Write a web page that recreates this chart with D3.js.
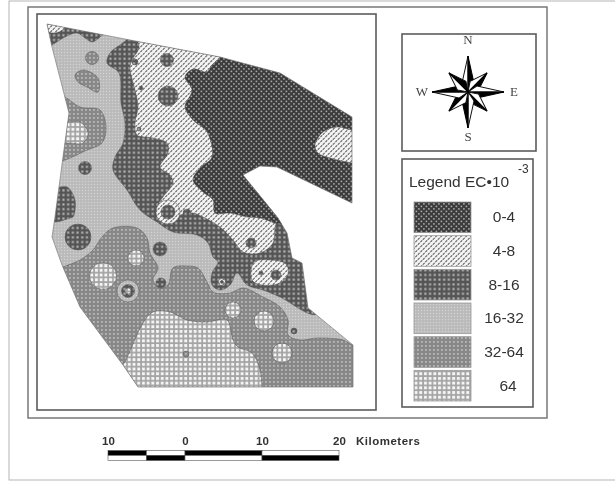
<!DOCTYPE html>
<html>
<head>
<meta charset="utf-8">
<script src="https://cdn.jsdelivr.net/npm/d3@7"></script>
<style>
html, body { margin: 0; padding: 0; background: #fff; }
svg { display: block; }
</style>
</head>
<body>
<svg id="chart" width="615" height="485"></svg>
<script>
// map outline and zones on a grid over the map extent
const outline = [[0,0],[83,16],[173,33],[233,49],[305,93],[305,179],[230,143],[213,142],[196,151],[231,194],[240,209],[245,234],[255,239],[261,284],[306,321],[306,363],[91,363],[76,341],[33,283],[15,241],[5,213],[8,193],[16,133],[22,89],[5,23]]

const zoneMiddle = [[95,8],[73,21],[63,29],[60,39],[72,49],[74,79],[78,99],[76,119],[68,133],[66,146],[80,166],[93,186],[110,198],[126,208],[150,211],[161,219],[166,233],[171,238],[165,249],[165,261],[173,266],[183,261],[190,249],[200,261],[216,266],[233,273],[270,290],[280,230],[250,190],[196,151],[173,30]]
const zoneCorner = [[-5,-5],[60,5],[53,13],[45,18],[38,14],[30,9],[16,14],[5,21],[-5,25]]
const zoneTip = [[-5,-3],[18,4],[8,9],[0,7]]
const zoneSeep = [[90,10],[92,24],[85,36],[83,44],[88,66],[91,83],[88,99],[90,111],[106,114],[120,119],[121,129],[113,143],[123,151],[126,159],[116,173],[110,183],[111,196],[120,198],[133,191],[146,189],[156,193],[173,203],[186,216],[196,228],[213,229],[226,219],[228,203],[231,191],[196,151],[190,100],[173,20],[120,5]]
const zonePond = [[207,238],[223,236],[239,240],[241,250],[233,259],[215,261],[205,256]]
const zoneLow = [[173,20],[173,33],[165,41],[160,48],[146,45],[138,53],[145,66],[138,83],[146,96],[160,108],[165,133],[153,144],[146,156],[156,168],[166,176],[168,189],[183,189],[200,193],[213,194],[235,200],[260,190],[330,190],[330,60],[233,30]]
const zoneEast = [[268,121],[276,108],[290,103],[305,106],[325,108],[325,142],[305,139],[283,134],[271,129]]
const zoneWest = [[0,65],[18,73],[33,83],[53,86],[59,103],[55,119],[40,126],[18,136],[0,140]]
const zoneWestCore = [[0,95],[21,98],[33,98],[41,109],[36,119],[20,119],[0,122]]
const zoneOval = [[28,51],[36,46],[51,54],[51,68],[40,63],[31,58]]
const zoneSouth = [[0,250],[16,243],[33,236],[46,226],[55,213],[66,204],[90,204],[100,214],[103,229],[111,244],[106,256],[113,264],[121,261],[126,244],[140,242],[151,244],[160,258],[166,268],[183,269],[196,264],[216,273],[233,283],[241,296],[241,311],[253,316],[270,314],[296,316],[306,321],[330,321],[330,385],[60,385]]
const zoneHigh = [[60,360],[76,341],[96,299],[106,288],[123,288],[140,296],[160,298],[180,296],[186,316],[191,323],[205,329],[213,346],[215,363],[217,385],[85,385]]
const zoneWestBlob = [[0,170],[10,164],[20,163],[28,176],[26,193],[23,194],[8,198],[0,195]]

// x, y, radius on the same grid, then the legend class
const spots = [
  [45,34,6.5,'32-64'], [38,144,6.5,'8-16'], [31,213,13,'8-16'], [113,225,7,'8-16'],
  [120,36,6.5,'8-16'], [121,72,10,'8-16'], [88,38,3,'8-16'], [94,64,2,'8-16'], [92,105,2,'8-16'],
  [121,188,12,'4-8'], [121,188,7,'8-16'], [140,189,4,'8-16'], [204,219,5,'8-16'],
  [229,251,5,'8-16'], [214,249,2,'8-16'], [114,259,5,'8-16'], [175,258,3.5,'4-8'], [175,258,1.5,'8-16'],
  [89,234,8,'64'], [56,252,13.5,'64'], [186,286,8,'64'], [217,297,10,'64'], [235,329,10,'64'],
  [81,267,11,'16-32'], [81,267,6.5,'8-16'], [81,267,3,'64'], [247,307,3,'8-16'], [139,330,3,'32-64']
]

const legendLabels = ['0-4', '4-8', '8-16', '16-32', '32-64', '64']
const scaleTicks = [-10, 0, 10, 20]
const scaleTop = [[-10,-5,'#000'], [-5,0,'#fff'], [0,10,'#000'], [10,20,'#fff']]
const scaleBottom = [[-10,-5,'#fff'], [-5,0,'#000'], [0,10,'#fff'], [10,20,'#000']]
const directions = ['N', 'E', 'S', 'W']
const spokeAngles = [0, 45, 90, 135, 180, 225, 270, 315]

const svg = d3.select('#chart')
const defs = svg.append('defs')

defs.append('filter').attr('id', 'soft')
    .attr('filterUnits', 'userSpaceOnUse')
    .attr('x', 0).attr('y', 0).attr('width', 615).attr('height', 485)
    .append('feGaussianBlur').attr('stdDeviation', 0.5)

function hatch(id, size, bg) {
    return defs.append('pattern').attr('id', id)
        .attr('patternUnits', 'userSpaceOnUse')
        .attr('width', size).attr('height', size)
        .call(p => p.append('rect').attr('width', size).attr('height', size).attr('fill', bg))
}

function fillOf(d) {
    return 'url(#p' + legendLabels.indexOf(d) + ')'
}

// 0-4 staggered light dots on near black
let p = hatch('p0', 5, '#3a3a3a')
p.append('rect').attr('x', 0.6).attr('y', 0.6).attr('width', 1.6).attr('height', 1.6).attr('fill', '#aaa')
p.append('rect').attr('x', 3.1).attr('y', 3.1).attr('width', 1.6).attr('height', 1.6).attr('fill', '#aaa')
// 4-8 dark ticks on white
p = hatch('p1', 5, '#f4f4f4')
p.append('path').attr('d', 'M0.3,2.2L2.2,0.3M2.8,4.7L4.7,2.8').attr('stroke', '#6a6a6a').attr('stroke-width', 1.2)
// 8-16 square grid of light dots
p = hatch('p2', 4.7, '#555')
p.append('rect').attr('x', 1.3).attr('y', 1.3).attr('width', 2.1).attr('height', 2.1).attr('fill', '#b8b8b8')
// 16-32 fine light grey
p = hatch('p3', 3, '#b9b9b9')
p.append('rect').attr('x', 0.8).attr('y', 0.8).attr('width', 1.4).attr('height', 1.4).attr('fill', '#d2d2d2')
// 32-64 mid grey
p = hatch('p4', 4, '#888')
p.append('rect').attr('x', 1).attr('y', 1).attr('width', 1.8).attr('height', 1.8).attr('fill', '#b8b8b8')
// 64 white squares on grey
p = hatch('p5', 4.7, '#a4a4a4')
p.append('rect').attr('x', 1).attr('y', 1).attr('width', 2.9).attr('height', 2.9).attr('fill', '#f6f6f6')

const root = svg.append('g').attr('filter', 'url(#soft)')
root.append('rect').attr('width', 615).attr('height', 485).attr('fill', '#fff')

// frames
function frame(x, y, w, h, col, sw) {
    root.append('rect').attr('x', x).attr('y', y).attr('width', w).attr('height', h)
        .attr('fill', 'none').attr('stroke', col).attr('stroke-width', sw)
}
frame(9, 1, 620, 479, '#b5b5b5', 1)
frame(28, 7, 519, 411, '#6e6e6e', 1.4)
frame(37, 14, 339, 396, '#5c5c5c', 1.6)
frame(402, 34, 134, 117, '#5c5c5c', 1.6)
frame(402, 159, 131, 248, '#5c5c5c', 1.6)

// map
const mapX = d3.scaleLinear().domain([0, 308]).range([47, 355])
const mapY = d3.scaleLinear().domain([0, 363]).range([24, 387])
const sharp = d3.line().x(d => mapX(d[0])).y(d => mapY(d[1]))
const round = d3.line().x(d => mapX(d[0])).y(d => mapY(d[1])).curve(d3.curveCatmullRomClosed.alpha(0.5))

defs.append('clipPath').attr('id', 'mapclip').append('path').attr('d', sharp(outline) + 'Z')

const map = root.append('g').attr('clip-path', 'url(#mapclip)')
map.append('path').attr('d', sharp(outline) + 'Z').attr('fill', fillOf('16-32'))

const zones = [
  [zoneMiddle, '8-16'], [zoneCorner, '8-16'], [zoneTip, '4-8'], [zoneSeep, '4-8'], [zonePond, '4-8'],
  [zoneLow, '0-4'], [zoneEast, '4-8'], [zoneWest, '32-64'], [zoneWestCore, '64'], [zoneOval, '32-64'],
  [zoneWestBlob, '8-16'], [zoneSouth, '32-64'], [zoneHigh, '64']
]
map.selectAll('path.zone').data(zones).enter().append('path')
    .attr('class', 'zone')
    .attr('d', d => round(d[0]))
    .attr('fill', d => fillOf(d[1]))
    .attr('stroke', '#555')
    .attr('stroke-width', 0.5)

map.selectAll('circle').data(spots).enter().append('circle')
    .attr('cx', d => mapX(d[0]))
    .attr('cy', d => mapY(d[1]))
    .attr('r', d => mapX(d[2]) - mapX(0))
    .attr('fill', d => fillOf(d[3]))
    .attr('stroke', '#555')
    .attr('stroke-width', 0.5)

root.append('path').attr('d', sharp(outline) + 'Z')
    .attr('fill', 'none').attr('stroke', '#777').attr('stroke-width', 0.7)

// compass
const compass = root.append('g').attr('transform', 'translate(468,92)')
const spokeLen = d => d % 90 == 0 ? 36 : 27
const spokes = compass.selectAll('g').data(spokeAngles).enter().append('g')
    .attr('transform', d => 'rotate(' + d + ')')
spokes.append('path')
    .attr('d', d => 'M0,0L0,' + (-spokeLen(d)) + 'L-6,-9Z')
    .attr('fill', '#fff').attr('stroke', '#111').attr('stroke-width', 1)
spokes.append('path')
    .attr('d', d => 'M0,0L0,' + (-spokeLen(d)) + 'L6,-9Z')
    .attr('fill', '#000').attr('stroke', '#000').attr('stroke-width', 1)
compass.selectAll('text').data(directions).enter().append('text')
    .attr('x', (d, i) => [0, 46, 0, -46][i])
    .attr('y', (d, i) => [-48, 4, 49, 4][i])
    .attr('text-anchor', 'middle')
    .attr('font-family', 'Liberation Serif')
    .attr('font-size', 13)
    .attr('fill', '#444')
    .text(d => d)

// legend
const legendY = d3.scaleBand().domain(legendLabels).range([202, 401]).paddingInner(0.09)
root.append('text').attr('x', 409).attr('y', 187)
    .attr('font-family', 'Liberation Sans').attr('font-size', 15.5).attr('fill', '#333')
    .text('Legend EC\u202210')
root.append('text').attr('x', 518).attr('y', 173)
    .attr('font-family', 'Liberation Sans').attr('font-size', 12).attr('fill', '#333')
    .text('-3')
root.selectAll('rect.swatch').data(legendLabels).enter().append('rect')
    .attr('class', 'swatch')
    .attr('x', 414).attr('width', 57)
    .attr('y', d => legendY(d)).attr('height', legendY.bandwidth())
    .attr('fill', d => fillOf(d))
    .attr('stroke', '#999').attr('stroke-width', 0.8)
root.selectAll('text.lab').data(legendLabels).enter().append('text')
    .attr('class', 'lab')
    .attr('x', d => d == '64' ? 508 : 504)
    .attr('y', d => legendY(d) + legendY.bandwidth() / 2 + 5)
    .attr('text-anchor', 'middle')
    .attr('font-family', 'Liberation Sans').attr('font-size', 15.5).attr('fill', '#333')
    .text(d => d)

// scale bar
const km = d3.scaleLinear().domain([-10, 20]).range([108, 339])
const bar = root.append('g')
bar.selectAll('rect.top').data(scaleTop).enter().append('rect')
    .attr('class', 'top')
    .attr('x', d => km(d[0])).attr('width', d => km(d[1]) - km(d[0]))
    .attr('y', 450.5).attr('height', 5)
    .attr('fill', d => d[2]).attr('stroke', '#555').attr('stroke-width', 0.6)
bar.selectAll('rect.bottom').data(scaleBottom).enter().append('rect')
    .attr('class', 'bottom')
    .attr('x', d => km(d[0])).attr('width', d => km(d[1]) - km(d[0]))
    .attr('y', 455.5).attr('height', 5)
    .attr('fill', d => d[2]).attr('stroke', '#555').attr('stroke-width', 0.6)

const axis = root.append('g').attr('transform', 'translate(0,446)')
    .call(d3.axisTop(km).tickValues(scaleTicks).tickSize(0).tickPadding(1).tickFormat(d => Math.abs(d)))
axis.select('.domain').remove()
axis.selectAll('text')
    .attr('font-family', 'Liberation Sans').attr('font-size', 11.5).attr('font-weight', 'bold').attr('fill', '#333')
root.append('text').attr('x', 356).attr('y', 445)
    .attr('font-family', 'Liberation Sans').attr('font-size', 11.5).attr('font-weight', 'bold').attr('fill', '#333')
    .attr('letter-spacing', 0.5)
    .text('Kilometers')
</script>
</body>
</html>
